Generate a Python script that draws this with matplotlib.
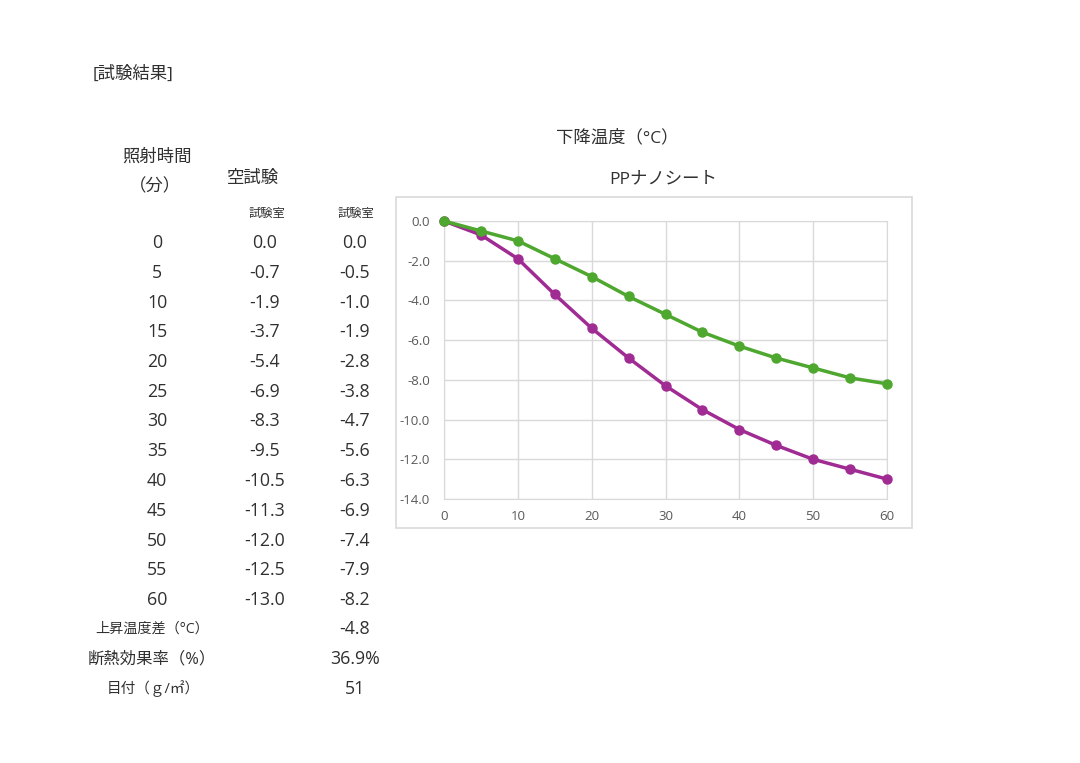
import matplotlib
matplotlib.use("Agg")
import matplotlib.pyplot as plt
from matplotlib.patches import Rectangle

plt.rcParams['font.family'] = ['Open Sans', 'Noto Sans CJK JP', 'DejaVu Sans']

minutes = [0, 5, 10, 15, 20, 25, 30, 35, 40, 45, 50, 55, 60]
blank = [0.0, -0.7, -1.9, -3.7, -5.4, -6.9, -8.3, -9.5, -10.5, -11.3, -12.0, -12.5, -13.0]
pp_nano = [0.0, -0.5, -1.0, -1.9, -2.8, -3.8, -4.7, -5.6, -6.3, -6.9, -7.4, -7.9, -8.2]
summary_labels = ['上昇温度差（°C）', '断熱効果率（%）', '目付（ｇ/㎡）']
summary_values = ['-4.8', '36.9%', '51']

W, H = 1080, 763
fig = plt.figure(figsize=(W / 100, H / 100), dpi=100)
fig.patch.set_facecolor('white')

def px(x, y):
    return x / W, 1 - y / H

txt = '#303030'
fs = 12.5
nfs = 12.8

# table headers
fig.text(*px(93, 74), '[試験結果]', fontsize=fs, color=txt, ha='left', va='center')
fig.text(*px(157, 158), '照射時間', fontsize=fs, color=txt, ha='center', va='center')
fig.text(*px(155, 187), '（分）', fontsize=fs, color=txt, ha='center', va='center')
fig.text(*px(253, 179), '空試験', fontsize=fs, color=txt, ha='center', va='center')
fig.text(*px(267, 213), '試験室', fontsize=8.8, color=txt, ha='center', va='center')
fig.text(*px(356, 213), '試験室', fontsize=8.8, color=txt, ha='center', va='center')

# table rows
for i, m in enumerate(minutes):
    y = 243 + i * 29.75
    fig.text(*px(157, y), str(m), fontsize=nfs, color=txt, ha='center', va='center')
    fig.text(*px(265, y), f'{blank[i]:.1f}', fontsize=nfs, color=txt, ha='center', va='center')
    fig.text(*px(355, y), f'{pp_nano[i]:.1f}', fontsize=nfs, color=txt, ha='center', va='center')

label_x = [152, 152, 153]
label_fs = [10.2, 11.8, 10.5]
for i, (lab, val) in enumerate(zip(summary_labels, summary_values)):
    y = 629 + i * 30
    fig.text(*px(label_x[i], y), lab, fontsize=label_fs[i], color=txt, ha='center', va='center')
    fig.text(*px(355, y), val, fontsize=nfs, color=txt, ha='center', va='center')

# chart titles
fig.text(*px(617, 138), '下降温度（°C）', fontsize=fs, color=txt, ha='center', va='center')
fig.text(*px(663, 179), 'PPナノシート', fontsize=fs, color=txt, ha='center', va='center')

# chart frame
x0, y0 = px(396, 528)
x1, y1 = px(912, 197)
fig.patches.append(Rectangle((x0, y0), x1 - x0, y1 - y0, transform=fig.transFigure,
                             fill=False, edgecolor='#d9d9d9', linewidth=1.2))

l, b = px(444, 499)
r, t = px(887, 221)
ax = fig.add_axes([l, b, r - l, t - b])
ax.set_xlim(0, 60)
ax.set_ylim(-14, 0)
ax.set_xticks(range(0, 61, 10))
ax.set_yticks(range(-14, 1, 2))
ax.set_yticklabels([f'{v:.1f}' for v in range(-14, 1, 2)])
ax.grid(True, color='#d9d9d9', linewidth=1)
ax.set_axisbelow(True)
for s in ax.spines.values():
    s.set_color('#d9d9d9')
ax.tick_params(length=0, labelsize=9.5, colors='#595959')
ax.tick_params(axis='y', pad=10)
ax.tick_params(axis='x', pad=8)

ax.plot(minutes, blank, color='#A02B93', linewidth=2.5, marker='o', markersize=6.5, clip_on=False, zorder=3)
ax.plot(minutes, pp_nano, color='#4EA72E', linewidth=2.5, marker='o', markersize=6.5, clip_on=False, zorder=4)

fig.savefig('out.png', dpi=100)
